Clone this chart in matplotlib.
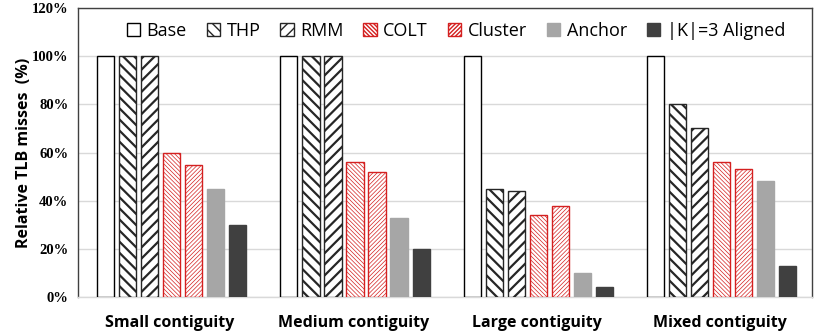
import numpy as np
import matplotlib.pyplot as plt
from matplotlib.ticker import FuncFormatter

categories = ['Small contiguity', 'Medium contiguity', 'Large contiguity', 'Mixed contiguity']
series = ['Base', 'THP', 'RMM', 'COLT', 'Cluster', 'Anchor', '|K|=3 Aligned']
base = [100, 100, 100, 100]
thp = [100, 100, 45, 80]
rmm = [100, 100, 44, 70]
colt = [60, 56, 34, 56]
cluster = [55, 52, 38, 53]
anchor = [45, 33, 10, 48]
aligned = [30, 20, 4, 13]
values = [base, thp, rmm, colt, cluster, anchor, aligned]

styles = [
    dict(facecolor='white', edgecolor='black', hatch=None, hlw=1.0),
    dict(facecolor='white', edgecolor='#262626', hatch='\\\\\\', hlw=1.6),
    dict(facecolor='white', edgecolor='#262626', hatch='///', hlw=1.6),
    dict(facecolor='white', edgecolor='#d42020', hatch='\\' * 8, hlw=0.5),
    dict(facecolor='white', edgecolor='#d42020', hatch='/' * 8, hlw=0.5),
    dict(facecolor='#a6a6a6', edgecolor='#a6a6a6', hatch=None, hlw=1.0),
    dict(facecolor='#404040', edgecolor='#404040', hatch=None, hlw=1.0),
]

fig = plt.figure(figsize=(8.3, 3.33), dpi=100)
ax = fig.add_axes([0.094, 0.108, 0.884, 0.868])

x = np.arange(len(categories))
pitch = 0.12
width = 0.093
for i, (name, vals, st) in enumerate(zip(series, values, styles)):
    bars = ax.bar(x + (i - 3) * pitch + 0.01, vals, width, label=name,
                  facecolor=st['facecolor'], edgecolor=st['edgecolor'],
                  hatch=st['hatch'], linewidth=1.0, zorder=3)
    for b in bars:
        if hasattr(b, 'set_hatch_linewidth'):
            b.set_hatch_linewidth(st['hlw'])

ax.set_xlim(-0.5, 3.5)
ax.set_ylim(0, 120)
ax.set_yticks(range(0, 121, 20))
ax.yaxis.set_major_formatter(FuncFormatter(lambda v, p: f'{int(v)}%'))
ax.set_xticks(x)
ax.set_xticklabels(categories, fontsize=11.5, fontweight='bold', family='Open Sans')
for lab in ax.get_yticklabels():
    lab.set_family('Liberation Serif')
    lab.set_fontweight('bold')
    lab.set_fontsize(10.5)
ax.tick_params(axis='both', length=0)
ax.tick_params(axis='x', pad=13)
ax.tick_params(axis='y', pad=7)
ax.grid(axis='y', color='#d9d9d9', linewidth=1.0, zorder=0)
for s in ax.spines.values():
    s.set_color('#404040')
    s.set_linewidth(1.0)
ax.spines['bottom'].set_color('#d9d9d9')

ax.set_ylabel('Relative TLB misses  (%)', fontsize=11.5, fontweight='bold', family='Open Sans', labelpad=0)

leg = ax.legend(loc='upper center', bbox_to_anchor=(0.515, 1.0), ncol=7, frameon=False,
                prop={'family': 'Open Sans', 'size': 13}, handlelength=0.75, handleheight=0.75,
                handletextpad=0.35, columnspacing=1.1, borderaxespad=0.35)

fig.savefig('out.png', dpi=100)
